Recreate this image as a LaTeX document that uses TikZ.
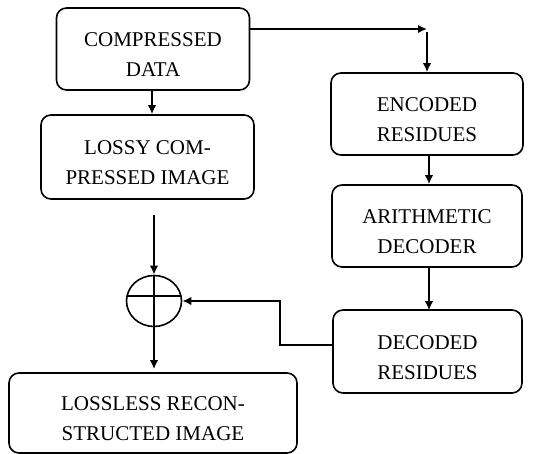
\documentclass[tikz,border=0pt]{standalone}
\usepackage{fontspec}
\setmainfont{Liberation Serif}
\usetikzlibrary{arrows.meta,shapes.geometric}
\newcommand{\tstrut}{\rule{0pt}{26pt}}
\begin{document}
\begin{tikzpicture}[x=1pt,y=-1pt,
  box/.style={draw,line width=1.6pt,rounded corners=10pt,align=center,inner sep=0pt,
    font=\fontsize{21}{30}\selectfont},
  arr/.style={line width=1.9pt,-{Latex[length=9pt,width=8.5pt]}},
  ln/.style={line width=1.8pt}]
\useasboundingbox (0,0) rectangle (547,454);
\node[box,minimum width=193pt,minimum height=82pt] (b1) at (153,49) {\tstrut COMPRESSED\\DATA};
\node[box,minimum width=213pt,minimum height=84pt] (b2) at (147.5,157) {\tstrut LOSSY COM-\\PRESSED IMAGE};
\node[box,minimum width=192pt,minimum height=82pt] (b3) at (427,114) {\tstrut ENCODED\\RESIDUES};
\node[box,minimum width=190pt,minimum height=82pt] (b4) at (427,226) {\tstrut ARITHMETIC\\DECODER};
\node[box,minimum width=189pt,minimum height=83pt] (b5) at (427.5,351.5) {\tstrut DECODED\\RESIDUES};
\node[box,minimum width=288pt,minimum height=80pt] (b6) at (153,413) {\tstrut LOSSLESS RECON-\\STRUCTED IMAGE};
\node[draw,ellipse,line width=1.6pt,minimum width=55pt,minimum height=51pt,inner sep=0pt] (sum) at (154,301) {};
\begin{scope}
  \clip (154,301) ellipse [x radius=27.5pt,y radius=25.5pt];
  \draw[ln] (120,296) -- (190,296);
  \draw[ln] (154,270) -- (154,330);
\end{scope}
\coordinate (c1) at (427,29);
\coordinate (c2) at (427,32);
\coordinate (c4) at (154,215);
\draw[arr] (b1.south -| 152,0) -- (b2.north -| 152,0);
\draw[arr] (b1.east |- c1) -- (c1);
\draw[arr] (c2) -- (c2 |- b3.north);
\draw[arr] (b3.south -| 429,0) -- (b4.north -| 429,0);
\draw[arr] (b4.south -| 429,0) -- ([yshift=-1pt]b5.north -| 429,0);
\draw[arr] ([yshift=6.5pt]b5.west) -- ++(-52,0) |- (sum.east);
\draw[arr] (c4) -- (sum.north);
\draw[arr,shorten >=3pt] (sum.south) -- (sum.south |- b6.north);
\end{tikzpicture}
\end{document}
